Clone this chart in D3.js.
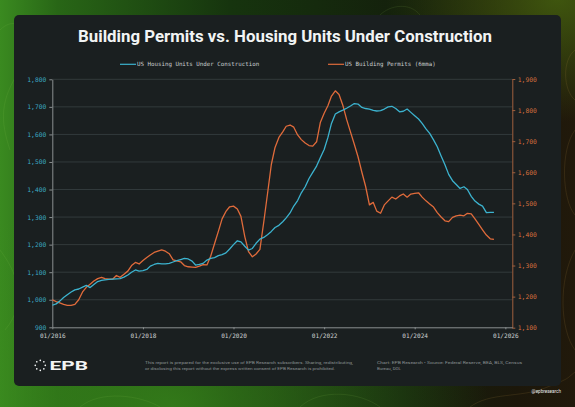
<!DOCTYPE html>
<html><head><meta charset="utf-8">
<script src="https://cdn.jsdelivr.net/npm/d3@7"></script>
<style>html,body{margin:0;padding:0;background:#0d1a0b;}svg{display:block;}</style>
</head><body>
<svg id="c" width="575" height="407"></svg>
<script>
// ---- data (monthly, starting 01/2016) ----
const startYear = 2016, startMonth = 0;
const underConstruction = [980,985,995,1008,1018,1028,1036,1039,1046,1052,1044,1055,
1066,1070,1072,1074,1075,1076,1077,1082,1090,1100,1108,1104,
1106,1110,1122,1128,1132,1130,1130,1132,1137,1142,1146,1150,
1148,1140,1126,1128,1132,1144,1150,1153,1160,1164,1170,1184,
1200,1214,1210,1194,1180,1186,1205,1220,1226,1236,1248,1262,
1270,1283,1297,1315,1340,1360,1388,1410,1440,1462,1485,1515,
1545,1590,1640,1674,1682,1688,1695,1703,1712,1710,1698,1694,
1692,1687,1685,1686,1692,1700,1702,1694,1682,1684,1692,1680,
1668,1656,1640,1620,1604,1580,1555,1522,1490,1455,1432,1418,
1404,1410,1400,1375,1358,1347,1340,1316,1317,1317];
const permits6mma = [1190,1184,1180,1175,1172,1172,1175,1190,1215,1230,1240,1250,
1258,1262,1258,1256,1256,1268,1262,1272,1282,1300,1310,1305,
1316,1326,1334,1342,1346,1350,1346,1338,1318,1315,1312,1300,
1296,1295,1294,1298,1303,1302,1330,1370,1410,1450,1474,1489,
1491,1482,1458,1393,1345,1328,1337,1352,1440,1530,1625,1680,
1712,1730,1748,1752,1745,1720,1705,1694,1686,1684,1698,1760,
1790,1815,1845,1862,1850,1815,1770,1730,1690,1650,1600,1555,
1495,1503,1475,1468,1495,1508,1520,1514,1524,1530,1520,1530,
1532,1534,1520,1508,1498,1488,1470,1456,1444,1441,1455,1460,
1462,1460,1468,1466,1450,1432,1415,1398,1386,1384];
const leftTicks = [900,1000,1100,1200,1300,1400,1500,1600,1700,1800];
const rightTicks = [1100,1200,1300,1400,1500,1600,1700,1800,1900];
const xTickYears = [2016,2018,2020,2022,2024,2026];
const seriesNames = ["US Housing Units Under Construction","US Building Permits (6mma)"];
const titleText = "Building Permits vs. Housing Units Under Construction";
const disclaimer = ["This report is prepared for the exclusive use of EPB Research subscribers. Sharing, redistributing,",
"or disclosing this report without the express written consent of EPB Research is prohibited."];
const sourceText = ["Chart: EPB Research  \u2022  Source: Federal Reserve, BEA, BLS, Census","Bureau, DOL"];

const TEAL = "#3cb3cf", ORANGE = "#e06b3b";
const svg = d3.select("#c");
const defs = svg.append("defs");
const g1 = defs.append("linearGradient").attr("id","bg").attr("x1","0").attr("y1","0").attr("x2","1").attr("y2","0");
[[0,"#3a8a20"],[0.1,"#286616"],[0.4,"#16340e"],[0.7,"#14200c"],[0.9,"#1c170a"],[1,"#21190b"]].forEach(s=>g1.append("stop").attr("offset",s[0]).attr("stop-color",s[1]));
const g2 = defs.append("radialGradient").attr("id","bg2").attr("cx","0.3").attr("cy","1").attr("r","0.55");
g2.append("stop").attr("offset",0).attr("stop-color","#3a8a1c").attr("stop-opacity",0.75);
g2.append("stop").attr("offset",1).attr("stop-color","#3a8a1c").attr("stop-opacity",0);
const g3 = defs.append("radialGradient").attr("id","bg3").attr("cx","0.97").attr("cy","0").attr("r","0.3");
g3.append("stop").attr("offset",0).attr("stop-color","#44600f").attr("stop-opacity",0.85);
g3.append("stop").attr("offset",1).attr("stop-color","#44600f").attr("stop-opacity",0);
svg.append("rect").attr("width",575).attr("height",407).attr("fill","url(#bg)");
svg.append("rect").attr("width",575).attr("height",407).attr("fill","url(#bg2)");
svg.append("rect").attr("width",575).attr("height",407).attr("fill","url(#bg3)");
// faint contour decoration
const deco = svg.append("g").attr("fill","none").attr("stroke","#9ccf5a").attr("stroke-opacity",0.16).attr("stroke-width",0.7);
deco.append("path").attr("d","M0,30 C20,10 40,40 20,70 S0,120 10,150");
deco.append("path").attr("d","M0,250 C15,270 30,300 5,330");
deco.append("path").attr("d","M80,407 C100,390 140,395 160,407");
deco.append("path").attr("d","M300,407 C320,388 360,392 380,407");
deco.append("path").attr("d","M380,15 C390,5 410,2 420,15");
const deco2 = svg.append("g").attr("fill","none").attr("stroke","#c89a4a").attr("stroke-opacity",0.2).attr("stroke-width",0.7);
deco2.append("path").attr("d","M575,130 C560,150 562,200 575,215");
deco2.append("path").attr("d","M575,250 C558,280 560,330 575,350");
deco2.append("path").attr("d","M470,407 C490,392 520,398 545,388 S565,380 575,372");
deco2.append("path").attr("d","M575,50 C562,60 563,90 575,100");

// card
svg.append("rect").attr("x",14).attr("y",15).attr("width",547).attr("height",371).attr("rx",5).attr("fill","#1a1f20");

// title
svg.append("text").attr("x",285).attr("y",41.5).attr("text-anchor","middle")
  .attr("font-family","Roboto, 'Noto Sans', sans-serif").attr("font-weight",700).attr("font-size",16.5)
  .attr("fill","#f2f4f4").attr("textLength",414).attr("lengthAdjust","spacingAndGlyphs").text(titleText);

// scales
const L = 52.3, R = 512.3, T = 79.3, B = 327.3;
const dates = d => d3.range(d.length).map(i => new Date(startYear, startMonth + i, 1));
const x = d3.scaleTime().domain([new Date(2016,0,1), new Date(2026,1,26)]).range([L,R]);
const yL = d3.scaleLinear().domain([900,1800]).range([B,T]);
const yR = d3.scaleLinear().domain([1100,1900]).range([327.7,79]);
const mono = "'DejaVu Sans Mono', 'Liberation Mono', monospace";

// gridlines
svg.append("g").selectAll("line").data(leftTicks.slice(1)).join("line")
  .attr("x1",L).attr("x2",R).attr("y1",d=>yL(d)).attr("y2",d=>yL(d))
  .attr("stroke","#394143").attr("stroke-width",0.8);

// left axis
const ax = svg.append("g").attr("transform",`translate(${L},0)`)
  .call(d3.axisLeft(yL).tickValues(leftTicks).tickFormat(d3.format(",")).tickSize(3).tickSizeOuter(0));
ax.select(".domain").attr("stroke","#8a8f90");
ax.selectAll(".tick line").attr("stroke","#8a8f90");
ax.selectAll("text").attr("fill","#3aa9c2").attr("font-family",mono).attr("font-size",6.3).attr("x",-6);

// right axis
const ar = svg.append("g").attr("transform",`translate(${R},0)`)
  .call(d3.axisRight(yR).tickValues(rightTicks).tickFormat(d3.format(",")).tickSize(3).tickSizeOuter(0));
ar.select(".domain").attr("stroke","#a0603e");
ar.selectAll(".tick line").attr("stroke","#a0603e");
ar.selectAll("text").attr("fill","#d9703e").attr("font-family",mono).attr("font-size",6.3).attr("x",5.5);

// bottom axis
const ab = svg.append("g").attr("transform",`translate(0,${B})`)
  .call(d3.axisBottom(x).tickValues(xTickYears.map(y=>new Date(y,0,1))).tickFormat(d3.timeFormat("%m/%Y")).tickSize(2).tickSizeOuter(0));
ab.select(".domain").attr("stroke","#8a8f90");
ab.selectAll(".tick line").attr("stroke","#8a8f90");
ab.selectAll("text").attr("fill","#c9cdce").attr("font-family",mono).attr("font-size",6.1).attr("dy","0.95em");

// lines
const dU = dates(underConstruction), dP = dates(permits6mma);
svg.append("path").datum(permits6mma).attr("fill","none").attr("stroke",ORANGE).attr("stroke-width",1.3)
  .attr("stroke-linejoin","round")
  .attr("d", d3.line().x((d,i)=>x(dP[i])).y(d=>yR(d)));
svg.append("path").datum(underConstruction).attr("fill","none").attr("stroke",TEAL).attr("stroke-width",1.3)
  .attr("stroke-linejoin","round")
  .attr("d", d3.line().x((d,i)=>x(dU[i])).y(d=>yL(d)));

// legend
const leg = [{x:120,c:TEAL,t:seriesNames[0]},{x:328,c:ORANGE,t:seriesNames[1]}];
const lg = svg.append("g").selectAll("g").data(leg).join("g").attr("transform",d=>`translate(${d.x},64.3)`);
lg.append("line").attr("x1",0).attr("x2",16).attr("stroke",d=>d.c).attr("stroke-width",1.2);
lg.append("text").attr("x",17).attr("dy","0.33em").attr("fill","#c9cdce").attr("font-family",mono).attr("font-size",5.8).text(d=>d.t);

// footer logo
const logo = svg.append("g").attr("transform","translate(40.3,365.3)");
logo.selectAll("circle").data(d3.range(8)).join("circle")
  .attr("cx",d=>5*Math.cos(d*Math.PI/4)).attr("cy",d=>5*Math.sin(d*Math.PI/4)).attr("r",0.85).attr("fill","#f2f4f4");
svg.append("text").attr("x",49.5).attr("y",370).attr("font-family","Roboto, sans-serif").attr("font-weight",700)
  .attr("font-size",13.5).attr("fill","#f2f4f4").attr("textLength",38.5).attr("lengthAdjust","spacingAndGlyphs").text("EPB");

const foot = svg.append("g").attr("font-family","Roboto, 'Noto Sans', sans-serif").attr("font-size",4.4).attr("fill","#8b9293");
foot.append("text").attr("x",145).attr("y",363.5).attr("textLength",208).attr("lengthAdjust","spacingAndGlyphs").text(disclaimer[0]);
foot.append("text").attr("x",145).attr("y",370).attr("textLength",190).attr("lengthAdjust","spacingAndGlyphs").text(disclaimer[1]);
foot.append("text").attr("x",377).attr("y",363.5).attr("textLength",145).attr("lengthAdjust","spacingAndGlyphs").text(sourceText[0]);
foot.append("text").attr("x",377).attr("y",370).text(sourceText[1]);
svg.append("text").attr("x",561).attr("y",392.5).attr("text-anchor","end").attr("font-family","Roboto, sans-serif")
  .attr("font-size",4.6).attr("fill","#e8eaea").text("@epbresearch");
</script>
</body></html>
